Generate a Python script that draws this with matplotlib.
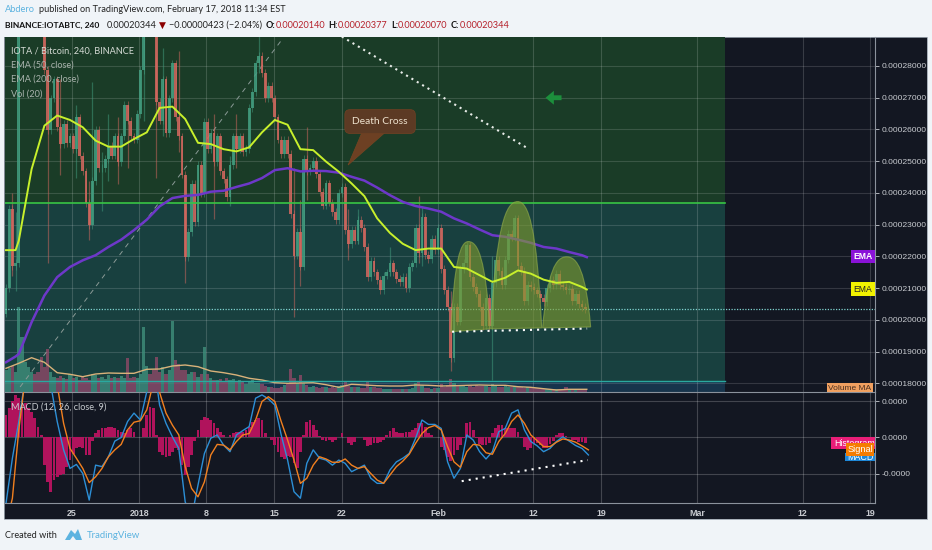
import numpy as np
import matplotlib.pyplot as plt
from matplotlib.patches import Rectangle, PathPatch, Polygon
from matplotlib.path import Path

W, H = 932, 550

# candle closes, one every 8h, in units of 0.00001 BTC
closes = [21.0, 23.5, 21.7, 21.8, 30.5, 31.5, 33, 33.5, 34, 33.5,
          32, 30.0, 27.88, 25.98, 26.98, 27.58, 26.08, 25.54, 26.18, 25.58,
          25.78, 25.38, 26.38, 25.18, 24.68, 23.68, 22.98, 24.38, 25.98, 24.78,
          24.78, 25.08, 25.48, 25.18, 25.78, 24.98, 25.78, 26.78, 26.28, 25.78,
          25.68, 26.48, 27.88, 30.3, 31.3, 30.8, 29.3, 26.88, 26.28, 27.58,
          25.88, 26.98, 28.08, 26.38, 25.78, 24.58, 21.98, 22.78, 24.28, 23.08,
          24.88, 23.98, 26.23, 25.38, 25.88, 24.98, 25.78, 24.68, 24.43, 23.88,
          24.88, 25.78, 25.38, 25.78, 25.28, 25.38, 26.68, 27.18, 28.08, 28.33,
          27.78, 26.98, 27.38, 26.98, 26.38, 25.68, 25.23, 25.68, 25.23, 23.33,
          22.03, 22.78, 21.68, 25.08, 24.68, 24.8, 25.0, 24.6, 24.04, 23.6,
          24.3, 23.7, 23.4, 23.14, 24.0, 24.2, 22.83, 22.4, 22.85, 22.5,
          23.14, 22.9, 22.3, 21.35, 21.85, 21.5, 21.25, 20.93, 21.4, 21.5,
          21.78, 21.5, 21.3, 21.2, 21.35, 21.0, 21.67, 21.78, 22.9, 22.1,
          23.25, 22.05, 21.93, 22.55, 22.2, 22.9, 21.6, 20.95, 20.4, 18.8,
          20.4, 19.95, 21.6, 21.8, 22.35, 21.35, 21.04, 20.83, 20.4, 19.8,
          20.7, 19.8, 21.15, 21.9, 21.55, 21.1, 21.9, 22.7, 22.6, 23.2,
          21.7, 21.55, 20.6, 21.1, 21.04, 20.93, 20.83, 20.7, 20.56, 21.0,
          21.25, 21.09, 21.45, 21.09, 21.05, 20.93, 20.98, 20.6, 20.83, 20.5,
          20.4, 20.34]
first_open = 20.2

# the long wicks only
wick_bar = [2, 3, 13, 17, 22, 26, 27, 30, 32, 35, 38, 43, 47, 49, 54, 56, 65, 70, 72, 79,
            90, 92, 94, 107, 110, 120, 129, 130, 139, 152]
wick_hi = [24, 23.4, 27.78, 27.58, 26.78, 24.38, 27.48, 25.28, 26.48, 26.38, 26.78, 28.98, 28.28, 28.58, 28.48,
           23.58, 26.48, 25.18, 26.48, 28.98, 24.78, 23.78, 26.08, 23.5, 23.5, 22.3, 23.9, 23.6, 20.9, 22]
wick_lo = [21.4, 20.9, 21.78, 24.58, 24.48, 22.53, 23.78, 23.43, 24.38, 24.28, 24.78, 26.28, 24.48, 25.78, 25.28,
           21.18, 23.18, 23.58, 24.78, 27.78, 20.1, 21.08, 23.78, 21.9, 22.4, 21.4, 21.8, 21.7, 18.4, 18.1]

# EMA points, one every 4 bars after the start, last one at the last bar
ema_bar = [0, 3] + list(range(4, 184, 4)) + [181.5]
ema50 = [22.2, 22.2, 22.5, 24.75, 26.12, 26.44, 26.3, 26.07, 25.65, 25.46, 25.46,
         25.7, 25.91, 26.68, 26.72, 26.33, 25.58, 25.54, 25.38, 25.31, 25.44,
         25.91, 26.3, 26.15, 25.38, 25.35, 24.99, 24.67, 24.3, 23.9, 23.2,
         22.74, 22.4, 22.2, 22.25, 22.25, 21.67, 21.62, 21.41, 21.2, 21.33,
         21.56, 21.46, 21.27, 21.17, 21.2, 21.04, 20.96]
ema200 = [18.67, 18.85, 18.93, 19.93, 20.77, 21.35, 21.67, 21.88, 22.04, 22.3, 22.53,
          22.83, 23.16, 23.58, 23.84, 23.91, 23.94, 24.04, 24.07, 24.19, 24.3,
          24.47, 24.72, 24.78, 24.68, 24.7, 24.69, 24.64, 24.51, 24.39, 24.17,
          23.93, 23.72, 23.59, 23.51, 23.41, 23.2, 23.04, 22.85, 22.67, 22.62,
          22.53, 22.43, 22.3, 22.25, 22.14, 22.04, 21.98]

volume = [22, 24, 26, 20, 85, 55, 30, 25, 20, 18,
          20, 35, 25, 43, 20, 15, 14, 16, 14, 13,
          18, 14, 15, 12, 15, 14, 12, 18, 17, 14,
          15, 13, 17, 14, 15, 14, 16, 14, 34, 14,
          15, 14, 18, 65, 26, 18, 22, 35, 20, 25,
          18, 22, 71, 32, 28, 22, 22, 18, 20, 20,
          15, 18, 45, 18, 14, 12, 12, 13, 10, 14,
          12, 13, 10, 12, 10, 8, 10, 12, 9, 9,
          8, 6, 5, 5, 4, 4, 5, 7, 8, 23,
          14, 9, 17, 9, 7, 5, 6, 5, 4, 5,
          5, 4, 5, 4, 6, 7, 11, 6, 5, 5,
          5, 4, 4, 11, 5, 5, 4, 4, 3, 3,
          3, 3, 3, 3, 3, 3, 3, 4, 9, 10,
          7, 4, 4, 3, 4, 4, 8, 5, 7, 13,
          9, 6, 7, 6, 5, 6, 5, 7, 6, 6,
          6, 5, 8, 6, 5, 5, 7, 5, 5, 6,
          5, 5, 4, 5, 5, 4, 4, 4, 3, 3,
          3, 3, 3, 3, 3, 5, 3, 3, 3, 3,
          3, 2]
volume_ma_bar = list(range(0, 184, 4)) + [181.5]
volume_ma = [23.7, 28.7, 34.3, 29.7, 19.3, 17.7, 15.3, 18, 19, 18.7,
             18.7, 22.7, 23, 26, 27, 25.3, 21, 19.3, 17, 13.7,
             12, 9.3, 8.7, 9, 9.3, 7.3, 4.7, 7.7, 7, 6.3,
             6, 6, 7, 6.7, 6, 6.3, 6.7, 7, 6.7, 6.7,
             5.3, 4.7, 3.3, 2, 2.7, 2.7, 2.7]

# MACD lines, one point every 2 bars, units of 0.00001
macd_bar = list(range(0, 184, 2))
macd_line = [-1.81, -0.57, 0.44, 1.63, 2.36, 2.36, 2.18, 1.44, 0.44, -0.34,
             -0.85, -0.74, -0.99, -1.72, -0.76, -0.80, -0.53, -0.10, 0.0, 0.44,
             0.67, 0.48, 1.26, 2.18, 0.89, 0.39, 0.02, -0.30, -1.77, -2.2,
             -1.31, -0.44, -0.02, 0.07, -0.21, -0.39, 0.07, 0.19, 0.30, 1.08,
             1.17, 1.06, 0.89, 0.07, -0.62, -1.49, -1.67, -0.71, -0.34, -0.57,
             -0.62, -0.76, -0.62, -0.71, -0.94, -0.85, -0.76, -1.12, -1.26, -1.26,
             -0.89, -0.67, -0.57, -0.44, -0.02, 0.48, 0.36, 0.36, 0.25, -0.67,
             -1.12, -0.85, 0.07, -0.07, -0.39, -0.59, -0.39, 0.16, 0.25, 0.67,
             0.76, 0.21, -0.11, -0.23, -0.39, -0.30, -0.11, 0.02, -0.10, -0.22,
             -0.30, -0.48]
signal_line = [-2.41, -1.67, 0.21, 1.63, 2.45, 2.82, 2.55, 1.99, 1.44, 0.39,
               -0.30, -0.57, -0.85, -1.24, -1.08, -0.85, -0.53, -0.34, -0.19, 0.21,
               0.42, 0.46, 0.76, 1.49, 1.24, 0.67, 0.34, 0.07, -0.80, -1.40,
               -1.63, -1.22, -0.48, -0.19, -0.21, -0.34, -0.11, 0.07, 0.11, 0.48,
               0.99, 1.12, 0.99, 0.44, -0.07, -0.62, -1.26, -1.12, -0.76, -0.53,
               -0.59, -0.68, -0.68, -0.59, -0.76, -0.85, -0.80, -0.99, -1.17, -1.26,
               -1.03, -0.80, -0.65, -0.46, -0.16, 0.11, 0.27, 0.33, 0.21, -0.25,
               -0.67, -0.82, -0.39, -0.19, -0.21, -0.42, -0.46, -0.11, 0.11, 0.44,
               0.62, 0.39, 0.07, -0.09, -0.25, -0.25, -0.13, -0.04, -0.07, -0.13,
               -0.23, -0.34]
histogram = [.62, .8, .99, 1.17, 1.08, .99, .94, .8, .71, .53,
             .3, .07, -.76, -1.22, -1.49, -1.17, -1.08, -1.03, -.99, -.8,
             -.62, -.44, -.3, -.25, -.3, -.48, -.48, -.11, .11, .21,
             .25, .27, .3, .3, .25, .21, .16, .11, .21, .25,
             .16, .02, .02, .25, .62, .85, .8, .07, -.39, -.48,
             -.53, -.5, -.39, -.3, -.34, -.76, -1.03, -.8, -.48, -.11,
             .21, .48, .57, .53, .48, .39, .25, .16, .07, .02,
             .07, .11, .16, .16, .16, .21, .3, .43, .48, .53,
             .48, .11, .02, -.07, -.21, -.39, -.53, -.59, -.5, -.53,
             -.71, -.85, -.39, .07, .43, .48, .34, .21, .05, -.07,
             -.11, -.07, -.13, -.07, .02, .11, .02, -.16, -.21, -.13,
             0, .02, -.07, -.23, -.21, -.16, -.16, -.13, -.07, .07,
             .18, .25, .16, .11, .11, .14, .16, .21, .25, .39,
             .41, .3, .11, .07, .02, 0, -.25, -.34, -.53, -.65,
             -.48, -.34, -.21, -.02, .39, .43, .21, -.02, -.19, -.22,
             -.22, -.16, .11, .25, .34, .33, .27, .27, .27, .27,
             .16, -.02, -.25, -.34, -.3, -.19, -.16, -.22, -.3, -.28,
             -.19, -.11, .07, .11, .13, .05, 0, -.07, -.07, -.13,
             -.13, -.16]

price_ticks = [18, 19, 20, 21, 22, 23, 24, 25, 26, 27, 28]
macd_ticks = [1, 0, -1]
time_tick_bar = [20.6, 41.6, 62.5, 83.75, 105, 135, 164.7, 185.9, 215.9, 249, 270]
time_tick_labels = ['25', '2018', '8', '15', '22', 'Feb', '12', '19', 'Mar', '12', '19']

last_price = 20.344
stop_level = 23.68    # top of the teal zone
target_level = 18.08  # bottom of the teal zone
zone_end_bar = 224.7

# head and shoulders arcs: start, apex, end
arc_bars = [(139, 144.5, 151.25), (151.5, 159.9, 167.4), (167.7, 175.2, 182.7)]
arc_prices = [(19.63, 22.47, 19.72), (19.72, 23.73, 19.75), (19.75, 21.99, 19.78)]

BG = '#131722'
GREEN_UP = '#439e80'
RED_DOWN = '#d4685f'
AXIS_TEXT = '#c8cbd0'

TEXT_FONT = ['Lato', 'DejaVu Sans']
plt.rcParams['font.family'] = ['Liberation Sans', 'DejaVu Sans']

fig = plt.figure(figsize=(W / 100, H / 100), dpi=100, facecolor='#f0f4f8')


def px_axes(left, top, right, bottom, z):
    a = fig.add_axes([left / W, 1 - bottom / H, (right - left) / W, (bottom - top) / H], zorder=z)
    a.patch.set_visible(False)
    for s in a.spines.values():
        s.set_visible(False)
    return a


def px_text(x, y, s, **kw):
    kw.setdefault('va', 'center')
    kw.setdefault('family', TEXT_FONT)
    fig.text(x / W, 1 - y / H, s, **kw)


def px_box(x0, y0, x1, y1, color, z=5):
    fig.add_artist(Rectangle((x0 / W, 1 - y1 / H), (x1 - x0) / W, (y1 - y0) / H,
                             color=color, lw=0, transform=fig.transFigure, zorder=z))


# dark panel behind everything
px_box(4, 37, 927, 519, BG, z=-5)
fig.add_artist(Rectangle((4 / W, 1 - 519 / H), 923 / W, 482 / H, fill=False, ec='#9aa3ad', lw=0.6,
                         transform=fig.transFigure, zorder=-4))

xlim = (-0.31, 271.56)
ylim = (17.732, 28.913)

# layers: zones and grid, then volume, then candles
ax_zone = px_axes(5, 37, 875, 392, 0)
ax_vol = px_axes(5, 37, 875, 392, 1)
ax = px_axes(5, 37, 875, 392, 2)
ax_macd = px_axes(5, 392, 875, 503, 2)

for a in (ax_zone, ax_vol, ax, ax_macd):
    a.set_xlim(xlim)
ax_zone.set_ylim(ylim)
ax.set_ylim(ylim)
ax_vol.set_ylim(0, 355)
ax_vol.set_xticks([])
ax_vol.set_yticks([])
ax_zone.set_xticks([])
ax_zone.set_yticks([])

ax_zone.add_patch(Rectangle((xlim[0], stop_level), zone_end_bar - xlim[0], ylim[1] - stop_level,
                            color='#1a3c27', lw=0))
ax_zone.add_patch(Rectangle((xlim[0], target_level), zone_end_bar - xlim[0], stop_level - target_level,
                            color='#18403f', lw=0))
ax_zone.add_patch(Rectangle((xlim[0], ylim[0]), zone_end_bar - xlim[0], target_level - ylim[0],
                            color='#17344c', lw=0))
for t in price_ticks:
    ax_zone.axhline(t, color='#ffffff', alpha=0.14, lw=0.8)
for t in time_tick_bar:
    ax_zone.axvline(t, color='#ffffff', alpha=0.16, lw=0.8)

# volume
bars = np.arange(len(closes))
opens = np.array([first_open] + closes[:-1])
closes_arr = np.array(closes)
up = closes_arr >= opens
candle_colors = np.where(up, GREEN_UP, RED_DOWN)
ax_vol.bar(bars, volume, width=0.95,
           color=np.where(up, '#3f8f7c', '#8e4a68'), alpha=0.8)
ax_vol.plot(volume_ma_bar, volume_ma, color='#d9b27a', lw=1.0)

# candles
wick_colors = [candle_colors[i] for i in wick_bar]
ax.vlines(wick_bar, wick_lo, wick_hi, colors=wick_colors, lw=0.9, alpha=0.5, zorder=2)
ax.vlines(bars, np.minimum(opens, closes_arr) - 0.12, np.maximum(opens, closes_arr) + 0.12,
          colors=candle_colors, lw=0.7, alpha=0.5, zorder=2)
ax.bar(bars, np.abs(closes_arr - opens), bottom=np.minimum(opens, closes_arr), width=0.85,
       color=candle_colors, alpha=0.85, zorder=3)

zone_frac = (zone_end_bar - xlim[0]) / (xlim[1] - xlim[0])
ax.axhline(stop_level, color='#38c545', lw=1.2, xmax=zone_frac, zorder=4)
ax.axhline(target_level, color='#2aa9a0', lw=1.0, xmax=zone_frac, zorder=4)
ax.axhline(last_price, color='#7fd3cf', lw=0.9, ls=(0, (1, 1.2)), zorder=4)

# EMAs
ax.plot(ema_bar, ema200, color='#6d38c9', lw=1.8, zorder=5)
ax.plot(ema_bar, ema50, color='#c8f02c', lw=1.4, zorder=7)

# head and shoulders
for bx, py in zip(arc_bars, arc_prices):
    x0, xa, x1 = bx
    y0, ya, y1 = py
    verts = [(x0, y0),
             (x0 + (xa - x0) * 0.2, y0 + (ya - y0) * 0.8), (xa - (xa - x0) * 0.45, ya), (xa, ya),
             (xa + (x1 - xa) * 0.45, ya), (x1 - (x1 - xa) * 0.2, y1 + (ya - y1) * 0.8), (x1, y1),
             (x0, y0)]
    codes = [Path.MOVETO, Path.CURVE4, Path.CURVE4, Path.CURVE4,
             Path.CURVE4, Path.CURVE4, Path.CURVE4, Path.CLOSEPOLY]
    ax.add_patch(PathPatch(Path(verts, codes), fc='#7f9b2f', ec='#93ad4a', alpha=0.62, lw=0.8, zorder=6))

# hand drawn lines
ax.plot([139.4, 181.6], [19.63, 19.73], color='white', lw=1.5, ls=(0, (1, 2.4)), zorder=8)
ax.plot([101.6, 162.8], [29.13, 25.42], color='#e8ece8', lw=1.5, ls=(0, (1, 2.0)), zorder=8)
ax.plot([4.4, 86.6], [17.89, 28.88], color='#8a9a96', lw=0.7, ls=(0, (5, 5)), zorder=1)
ax.annotate('', xy=(168.6, 27.0), xytext=(173.6, 27.0),
            arrowprops=dict(width=3.5, headwidth=10, headlength=6, color='#1c8f3c', lw=0), zorder=8)

# death cross callout
ax.add_patch(Polygon([(106.9, 24.88), (111.2, 25.9), (118.4, 25.9)], fc='#6d4023', ec='#774522', lw=0.5, zorder=8))
ax.text(116.9, 26.25, 'Death Cross', color='#efe3cf', fontsize=7.4, ha='center', va='center', zorder=9,
        family=TEXT_FONT,
        bbox=dict(boxstyle='round,pad=0.72,rounding_size=0.5', fc='#5c3a24', ec='#6d4023', lw=0.6))

ax.set_xticks([])
ax.set_yticks(price_ticks)
ax.set_yticklabels([f'{t / 100000:.8f}' for t in price_ticks])
ax.yaxis.tick_right()
ax.tick_params(axis='y', colors=AXIS_TEXT, labelsize=6.1, length=3, width=0.6, pad=2)
ax.spines['right'].set_visible(True)
ax.spines['right'].set_color('#8b929c')
ax.spines['right'].set_linewidth(0.8)

# macd pane
ax_macd.set_ylim(-1.8, 1.25)
for t in macd_ticks:
    ax_macd.axhline(t, color='#ffffff', alpha=0.2, lw=0.8, zorder=1)
for t in time_tick_bar:
    ax_macd.axvline(t, color='#ffffff', alpha=0.2, lw=0.8, zorder=1)
ax_macd.bar(bars, histogram, width=0.9, color='#b0135c', zorder=2)
ax_macd.plot(macd_bar, macd_line, color='#2c8fd6', lw=1.0, zorder=3)
ax_macd.plot(macd_bar, signal_line, color='#f2801f', lw=1.0, zorder=4)
ax_macd.plot([142.4, 181.8], [-1.2, -0.62], color='white', lw=1.5, ls=(0, (1, 2.4)), zorder=5)
ax_macd.set_yticks(macd_ticks)
ax_macd.set_yticklabels([f'{t / 100000:.4f}' for t in macd_ticks])
ax_macd.yaxis.tick_right()
ax_macd.tick_params(axis='y', colors=AXIS_TEXT, labelsize=6.1, length=3, width=0.6, pad=2)
ax_macd.set_xticks(time_tick_bar)
ax_macd.set_xticklabels(time_tick_labels, fontweight='bold')
ax_macd.tick_params(axis='x', colors=AXIS_TEXT, labelsize=6.4, length=0, pad=4)
ax_macd.spines['right'].set_visible(True)
ax_macd.spines['bottom'].set_visible(True)
ax_macd.spines['top'].set_visible(True)
for side in ('right', 'bottom', 'top'):
    ax_macd.spines[side].set_color('#8b929c')
    ax_macd.spines[side].set_linewidth(0.8)

# study titles
px_text(11, 51, 'IOTA / Bitcoin, 240, BINANCE', color='#d5dbd5', fontsize=6.6, zorder=10)
px_text(11, 65, 'EMA (50, close)', color='#a9b3ad', fontsize=6.6, zorder=10)
px_text(11, 79, 'EMA (200, close)', color='#a9b3ad', fontsize=6.6, zorder=10)
px_text(11, 94, 'Vol (20)', color='#a9b3ad', fontsize=6.6, zorder=10)
px_text(11, 407, 'MACD (12, 26, close, 9)', color='#c8ccd0', fontsize=6.6, zorder=10)

# scale labels
LABEL_FONT = ['Liberation Sans', 'DejaVu Sans']
px_box(851, 250, 875, 263, '#8a12d8')
px_text(863, 256.5, 'EMA', color='white', fontsize=6.2, ha='center', zorder=6, fontweight='bold', family=LABEL_FONT)
px_box(851, 282, 875, 296, '#f2f200')
px_text(863, 289, 'EMA', color='#222222', fontsize=6.2, ha='center', zorder=6, family=LABEL_FONT)
px_box(827, 383, 873, 392, '#f0a060')
px_text(850, 388, 'Volume MA', color='#4a3020', fontsize=6, ha='center', zorder=6, family=LABEL_FONT)
px_box(831, 437, 875, 449, '#e91e78')
px_text(834, 443, 'Histogram', color='white', fontsize=6.4, zorder=6, family=LABEL_FONT)
px_box(845, 453, 875, 461, '#1e88d8')
px_text(860, 457, 'MACD', color='white', fontsize=6.4, ha='center', zorder=6, family=LABEL_FONT)
px_box(846, 443, 874, 456, '#f57c00', z=7)
px_text(860, 449.5, 'Signal', color='white', fontsize=6.6, ha='center', zorder=8, family=LABEL_FONT)

# page header
px_text(5, 10, 'Abdero', color='#5cb3e0', fontsize=6.7)
px_text(39, 10, 'published on TradingView.com, February 17, 2018 11:34 EST', color='#222222', fontsize=6.6)
px_text(5, 25, 'BINANCE:IOTABTC, 240', color='#111111', fontsize=6.1, fontweight='bold')
px_text(107, 25, '0.00020344', color='#222222', fontsize=6.6)
px_text(159, 25, '\u25bc', color='#8b0000', fontsize=6.5, family=['DejaVu Sans'])
px_text(169, 25, '\u22120.00000423 (\u22122.04%)', color='#222222', fontsize=6.6)
for lab_x, lab, val_x, val in [(266, 'O:', 276, '0.00020140'), (328, 'H:', 338, '0.00020377'),
                               (391, 'L:', 398, '0.00020070'), (451, 'C:', 460, '0.00020344')]:
    px_text(lab_x, 25, lab, color='#111111', fontsize=6.6, fontweight='bold')
    px_text(val_x, 25, val, color='#b5202a', fontsize=6.6)

# footer
px_text(5, 535, 'Created with', color='#222222', fontsize=6.6)
px_text(87, 535, 'TradingView', color='#5cb3e0', fontsize=6.9)
fig.add_artist(Polygon([(65 / W, 1 - 540 / H), (71 / W, 1 - 530 / H), (75 / W, 1 - 534 / H),
                        (78 / W, 1 - 529 / H), (82 / W, 1 - 540 / H), (76 / W, 1 - 540 / H),
                        (73 / W, 1 - 536 / H), (70 / W, 1 - 540 / H)],
                       color='#5cb3e0', lw=0, transform=fig.transFigure))

fig.savefig('out.png', dpi=100, facecolor=fig.get_facecolor())
